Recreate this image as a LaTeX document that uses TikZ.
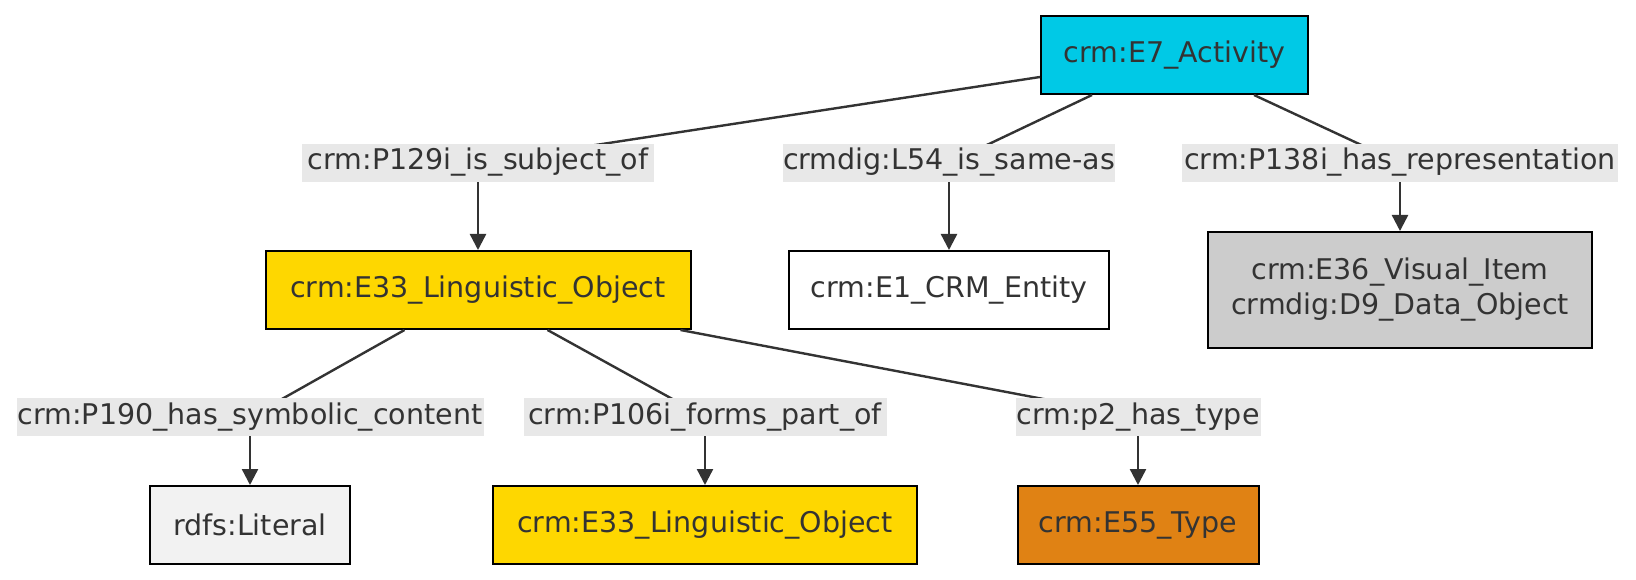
\documentclass[tikz,border=0pt]{standalone}
\usepackage{fontspec}
\setmainfont{DejaVu Sans}
\usetikzlibrary{arrows.meta,calc}
\definecolor{ink}{HTML}{333333}
\definecolor{lblbg}{HTML}{E8E8E8}
\definecolor{cact}{HTML}{00C9E6}
\definecolor{cling}{HTML}{FED700}
\definecolor{cvis}{HTML}{CCCCCC}
\definecolor{clit}{HTML}{F2F2F2}
\definecolor{ctype}{HTML}{E08214}
\begin{document}
\begin{tikzpicture}[x=1pt,y=-1pt,
  box/.style={draw=black, line width=2pt, text=ink, font=\fontsize{28.5}{35}\selectfont,
    minimum height=78pt, inner sep=0pt, align=center},
  elabel/.style={fill=lblbg, text=ink, font=\fontsize{28.5}{35}\selectfont,
    minimum height=38pt, inner sep=0pt, text height=21pt, text depth=7pt},
  link/.style={draw=ink, line width=2.4pt},
  arrow/.style={link, -{Triangle[length=16pt,width=16pt]}}]
\fill[white] (0,0) rectangle (1636,580);
\useasboundingbox (0,0) rectangle (1636,580);
% boxes
\node[box, fill=cact, minimum width=267pt] (e7) at (1174.5,55) {crm:E7\_Activity};
\node[box, fill=cling, minimum width=425pt] (e33) at (478,290) {crm:E33\_Linguistic\_Object};
\node[box, fill=white, minimum width=320pt] (e1) at (949,290) {crm:E1\_CRM\_Entity};
\node[box, fill=cvis, minimum width=384pt, minimum height=116pt] (e36) at (1400,290) {crm:E36\_Visual\_Item\\crmdig:D9\_Data\_Object};
\node[box, fill=clit, minimum width=200pt] (lit) at (250,525) {rdfs:Literal};
\node[box, fill=cling, minimum width=424pt] (e33b) at (705,525) {crm:E33\_Linguistic\_Object};
\node[box, fill=ctype, minimum width=241pt] (e55) at (1138,525) {crm:E55\_Type};
% label positions
\coordinate (c129) at (478,163);
\coordinate (c54) at (949,163);
\coordinate (c138) at (1400,163);
\coordinate (c190) at (250,417);
\coordinate (c106) at (705,417);
\coordinate (cp2) at (1138,417);
% lines into labels
\draw[link] ($(e7.south west)+(0,-18)$) -- (c129);
\draw[link] ($(e7.south west)+(52,0)$) -- (c54);
\draw[link] ($(e7.south west)+(214,0)$) -- (c138);
\draw[link] ($(e33.south west)+(140,0)$) -- (c190);
\draw[link] ($(e33.south west)+(283,0)$) -- (c106);
\draw[link] ($(e33.south west)+(416,0)$) -- (cp2);
% labels
\node[elabel, minimum width=352pt] (l129) at (c129) {crm:P129i\_is\_subject\_of};
\node[elabel, minimum width=330pt] (l54) at (c54) {crmdig:L54\_is\_same-as};
\node[elabel, minimum width=436pt] (l138) at (c138) {crm:P138i\_has\_representation};
\node[elabel, minimum width=467pt] (l190) at (c190) {crm:P190\_has\_symbolic\_content};
\node[elabel, minimum width=363pt] (l106) at (c106) {crm:P106i\_forms\_part\_of};
\node[elabel, minimum width=245pt] (lp2) at (cp2) {crm:p2\_has\_type};
% arrows
\draw[arrow] (l129) -- (e33);
\draw[arrow] (l54) -- (e1);
\draw[arrow] (l138) -- (e36);
\draw[arrow] (l190) -- (lit);
\draw[arrow] (l106) -- (e33b);
\draw[arrow] (lp2) -- (e55);
\end{tikzpicture}
\end{document}
